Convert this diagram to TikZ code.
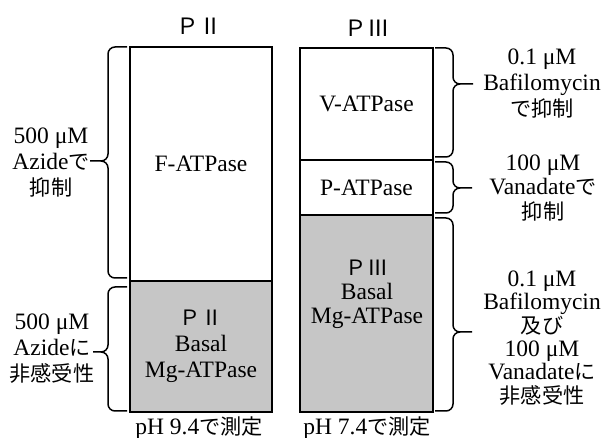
\documentclass[tikz,border=0pt]{standalone}
\usepackage{fontspec}
\setmainfont{Liberation Serif}
\newfontfamily\jp{Noto Sans CJK JP}[Scale=0.9]
\begin{document}
\begin{tikzpicture}[x=1pt,y=-1pt,font=\fontsize{23.5}{25}\selectfont]
  \definecolor{basal}{HTML}{C6C6C6}
  \tikzset{bar/.style={draw,line width=1.7pt,inner sep=0pt,align=center},
    txt/.style={align=center,inner sep=0pt},
    ttl/.style={inner sep=0pt,font=\fontsize{25}{25}\selectfont\jp},
    brc/.style={line width=1.5pt,rounded corners=7pt}}
  \useasboundingbox (0,0) rectangle (603,438);
  % P II
  \node[ttl] (t2) at (199,26) {ＰⅡ};
  \node[bar,minimum width=142pt,minimum height=234pt] (f) at (201,164) {F-ATPase};
  \node[bar,minimum width=142pt,minimum height=131pt,fill=basal,font=\fontsize{23.5}{26}\selectfont] (b2) at (201,346.5) {{\jp ＰⅡ}\\Basal\\Mg-ATPase};
  \node[txt] (ph2) at (199,428) {pH 9.4{\jp で測定}};
  % P III
  \node[ttl] (t3) at (367,28) {ＰⅢ};
  \node[bar,minimum width=133pt,minimum height=112pt] (v) at (366.5,104) {V-ATPase};
  \node[bar,minimum width=133pt,minimum height=55pt] (p) at (366.5,187.5) {P-ATPase};
  \node[bar,minimum width=133pt,minimum height=197pt,fill=basal] (b3) at (366.5,313.5) {};
  \node[txt,font=\fontsize{23.5}{24}\selectfont] (b3t) at (367,294) {{\jp ＰⅢ}\\Basal\\Mg-ATPase};
  \node[txt] (ph3) at (367,428) {pH 7.4{\jp で測定}};
  % braces
  \draw[brc] (127,47) -- (108,47) -- (108,161) -- (90,161) (127,278) -- (108,278) -- (108,161) -- (90,161);
  \draw[brc] (127,287) -- (108,287) -- (108,352) -- (93,352) (127,411) -- (108,411) -- (108,352) -- (93,352);
  \draw[brc] (435,48) -- (453,48) -- (453,84) -- (473,84) (435,157) -- (453,157) -- (453,84) -- (473,84);
  \draw[brc] (435,162) -- (453,162) -- (453,188) -- (472,188) (435,213) -- (453,213) -- (453,188) -- (472,188);
  \draw[brc] (435,218) -- (453,218) -- (453,332) -- (472,332) (435,411) -- (453,411) -- (453,332) -- (472,332);
  % inhibitor labels
  \node[txt,font=\fontsize{23.5}{26}\selectfont] (l1) at (51,163) {500 μM\\Azide{\jp で}\\{\jp 抑制}};
  \node[txt,font=\fontsize{23.5}{26}\selectfont] (l2) at (52,349) {500 μM\\Azide{\jp に}\\{\jp 非感受性}};
  \node[txt,font=\fontsize{23.5}{26}\selectfont] (r1) at (542,84) {0.1 μM\\Bafilomycin\\{\jp で抑制}};
  \node[txt,font=\fontsize{23.5}{24.5}\selectfont] (r2) at (543,188) {100 μM\\Vanadate{\jp で}\\{\jp 抑制}};
  \node[txt,font=\fontsize{23.5}{23.4}\selectfont] (r3) at (542,338) {0.1 μM\\Bafilomycin\\{\jp 及び}\\100 μM\\Vanadate{\jp に}\\{\jp 非感受性}};
\end{tikzpicture}
\end{document}
